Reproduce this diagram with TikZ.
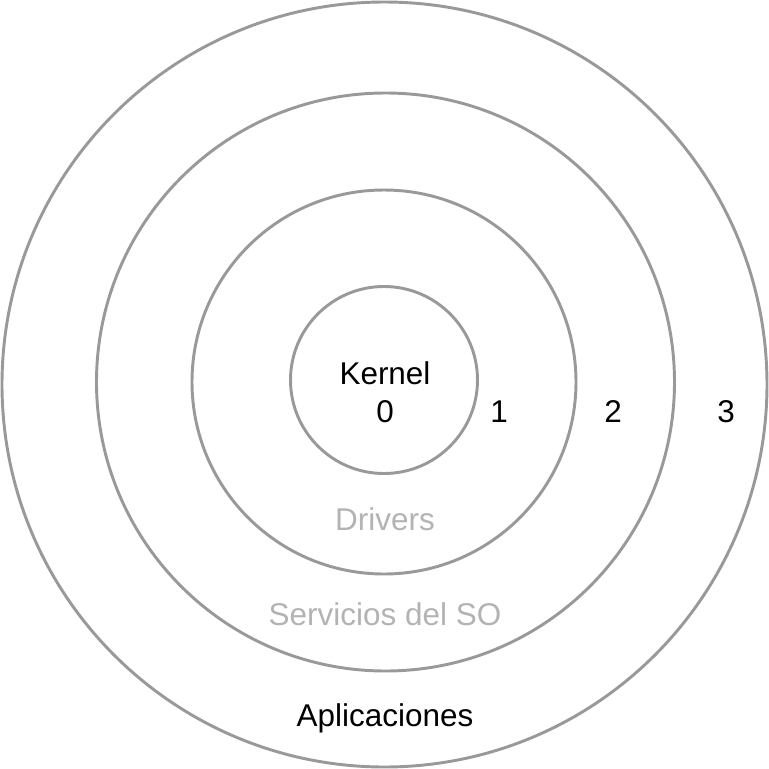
\documentclass[tikz,border=0pt]{standalone}
\usepackage{fontspec}
\setmainfont{Liberation Sans}
\usetikzlibrary{positioning}
\definecolor{ringgray}{HTML}{999999}
\definecolor{labelgray}{HTML}{B3B3B3}
\tikzset{
  ring/.style={
    shape = circle,
    draw = ringgray,
    line width = 2.2pt,
    inner sep = 0pt
  },
  lbl/.style={
    anchor = base,
    inner sep = 0pt,
    font = \fontsize{23.6}{26}\selectfont
  },
  faint/.style={
    lbl,
    text = labelgray
  }
}
\begin{document}
\begin{tikzpicture}[x=0.75pt, y=-0.75pt]
    \useasboundingbox (0,0) rectangle (769,769);
    % rings, from outside in
    \node[ring, minimum size=765*0.75pt] (apps) at (384.5,384.5) {};
    \node[ring, minimum size=578*0.75pt] (servicios) at (385.5,382) {};
    \node[ring, minimum size=384*0.75pt] (drivers) at (384,382) {};
    \node[ring, minimum size=187*0.75pt] (kernel) at (384,380) {};
    % labels
    \node[lbl] (kname) at (385,384.5) {Kernel};
    \node[lbl] (n0) at (385,422.5) {0};
    \node[lbl] (n1) at (499,422.5) {1};
    \node[lbl] (n2) at (613,422.5) {2};
    \node[lbl] (n3) at (726,422.5) {3};
    \node[faint] (dname) at (385,530) {Drivers};
    \node[faint] (sname) at (385,625) {Servicios del SO};
    \node[lbl] (aname) at (385,726) {Aplicaciones};
\end{tikzpicture}
\end{document}
